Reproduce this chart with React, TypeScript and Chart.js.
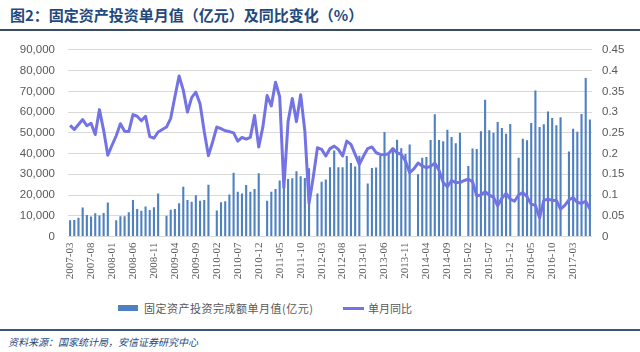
import React, { useEffect, useRef } from "react";
import { Chart, registerables } from "chart.js";

Chart.register(...registerables);

// Categories: 2007-03 .. 2017-07 (monthly)
const START_YEAR = 2007;
const START_MONTH = 3;
const MONTH_COUNT = 125;
const months: string[] = [];
for (let k = 0; k < MONTH_COUNT; k++) {
  const m0 = START_MONTH - 1 + k;
  const y = START_YEAR + Math.floor(m0 / 12);
  const m = (m0 % 12) + 1;
  months.push(`${y}-${m < 10 ? "0" + m : m}`);
}

// 固定资产投资单月值（亿元）; January not reported (null)
const investment: (number | null)[] = [
  // 2007-03 .. 2007-12
  7800, 7900, 9000, 14000, 10400, 9700, 11200, 10100, 11300, 16400,
  // 2008
  null, 7800, 9800, 9800, 11700, 17600, 13300, 12400, 14500, 12800, 14100, 20700,
  // 2009
  null, 10000, 12900, 13300, 16000, 24000, 17600, 16800, 19900, 17200, 17600, 24900,
  // 2010
  null, 12500, 16500, 17000, 20300, 30700, 21600, 20700, 24800, 21600, 22900, 30500,
  // 2011
  null, 17300, 21600, 22900, 27000, 27700, 27700, 28100, 31500, 29000, 28200, 32900,
  // 2012
  null, 20700, 26400, 27500, 33400, 41500, 33400, 33400, 38800, 35500, 33800, 39000,
  // 2013
  null, 25600, 33000, 33300, 38800, 50400, 39600, 42600, 46700, 42600, 39800, 44400,
  // 2014
  null, 30000, 38000, 38400, 46500, 59000, 46500, 46000, 51500, 48000, 45000, 50000,
  // 2015
  null, 34000, 42500, 42200, 50800, 66000, 51200, 50000, 55200, 52300, 49600, 54300,
  // 2016
  null, 38000, 47200, 46400, 54700, 70400, 52800, 54200, 60300, 57100, 53600, 57500,
  // 2017
  null, 41000, 52000, 50500, 59100, 76500, 56400,
];

// 单月同比
const yoy: number[] = [
  // 2007-03 .. 2007-12
  0.268, 0.258, 0.27, 0.282, 0.267, 0.273, 0.246, 0.306, 0.256, 0.196,
  // 2008
  0.22, 0.243, 0.272, 0.254, 0.253, 0.294, 0.29, 0.279, 0.29, 0.241, 0.237, 0.252,
  // 2009
  0.258, 0.264, 0.285, 0.337, 0.387, 0.353, 0.3, 0.335, 0.348, 0.32, 0.253, 0.195,
  // 2010
  0.228, 0.264, 0.26, 0.255, 0.253, 0.25, 0.23, 0.239, 0.235, 0.239, 0.292, 0.216,
  // 2011
  0.265, 0.34, 0.315, 0.372, 0.337, 0.118, 0.277, 0.333, 0.277, 0.342, 0.254, 0.08,
  // 2012
  0.143, 0.214, 0.21, 0.194, 0.212, 0.218, 0.21, 0.194, 0.23, 0.222, 0.198, 0.174,
  // 2013
  0.194, 0.212, 0.216, 0.202, 0.198, 0.197, 0.2, 0.212, 0.202, 0.198, 0.182, 0.154,
  // 2014
  0.163, 0.177, 0.17, 0.166, 0.169, 0.177, 0.16, 0.13, 0.12, 0.135, 0.13, 0.13,
  // 2015
  0.135, 0.138, 0.132, 0.098, 0.1, 0.108, 0.1, 0.095, 0.074, 0.092, 0.104, 0.09,
  // 2016
  0.085, 0.1, 0.106, 0.096, 0.078, 0.075, 0.045, 0.087, 0.09, 0.087, 0.087, 0.066,
  // 2017
  0.075, 0.088, 0.094, 0.082, 0.08, 0.085, 0.066,
];

const leftTicks = [0, 10000, 20000, 30000, 40000, 50000, 60000, 70000, 80000, 90000];
const rightTicks = [0, 0.05, 0.1, 0.15, 0.2, 0.25, 0.3, 0.35, 0.4, 0.45];

const BAR_LABEL = "固定资产投资完成额单月值(亿元)";
const LINE_LABEL = "单月同比";
const TITLE = "图2：固定资产投资单月值（亿元）及同比变化（%）";
const SOURCE = "资料来源：国家统计局，安信证券研究中心";

const BAR_COLOR = "#4f80c0";
const LINE_COLOR = "#7373e6";
const TICK_COLOR = "#595959";
const GRID_COLOR = "#d9d9d9";

export default function App() {
  const ref = useRef<HTMLCanvasElement | null>(null);

  useEffect(() => {
    if (!ref.current) return;
    const chart = new Chart(ref.current, {
      data: {
        labels: months,
        datasets: [
          {
            type: "line",
            label: LINE_LABEL,
            data: yoy,
            yAxisID: "y1",
            borderColor: LINE_COLOR,
            backgroundColor: LINE_COLOR,
            borderWidth: 3,
            pointRadius: 0,
            tension: 0,
            order: 0,
            borderJoinStyle: "round",
          },
          {
            type: "bar",
            label: BAR_LABEL,
            data: investment,
            yAxisID: "y",
            backgroundColor: BAR_COLOR,
            barPercentage: 0.5,
            categoryPercentage: 1,
            order: 1,
          },
        ],
      } as any,
      options: {
        responsive: false,
        animation: false,
        layout: { padding: { top: 16, left: 0, right: 0, bottom: 0 } },
        plugins: { legend: { display: false }, tooltip: { enabled: false } },
        scales: {
          x: {
            grid: { display: false, drawTicks: false },
            border: { display: false },
            ticks: {
              autoSkip: false,
              minRotation: 90,
              maxRotation: 90,
              padding: 6,
              color: TICK_COLOR,
              font: { family: "'Liberation Serif', serif", size: 11 },
              callback: (_v: any, i: number) => (i % 5 === 0 ? months[i] : ""),
            },
            afterFit: (s: any) => {
              s.height = 53.5;
            },
          },
          y: {
            position: "left",
            min: 0,
            max: 90000,
            afterBuildTicks: (s: any) => {
              s.ticks = leftTicks.map((v) => ({ value: v }));
            },
            ticks: {
              padding: 13,
              color: TICK_COLOR,
              font: { family: "'Liberation Sans', sans-serif", size: 11.5 },
              callback: (v: any) => Number(v).toLocaleString("en-US"),
            },
            grid: { color: GRID_COLOR, drawTicks: false, lineWidth: 1 },
            border: { display: false },
            afterFit: (s: any) => {
              s.width = 68;
            },
          },
          y1: {
            position: "right",
            min: 0,
            max: 0.45,
            afterBuildTicks: (s: any) => {
              s.ticks = rightTicks.map((v) => ({ value: v }));
            },
            ticks: {
              padding: 10,
              color: TICK_COLOR,
              font: { family: "'Liberation Sans', sans-serif", size: 11.5 },
              callback: (v: any) => String(Number(Number(v).toFixed(2))),
            },
            grid: { display: false, drawTicks: false },
            border: { display: false },
            afterFit: (s: any) => {
              s.width = 48;
            },
          },
        },
      } as any,
    });
    return () => chart.destroy();
  }, []);

  const cjk = "'Noto Sans CJK SC', sans-serif";

  return (
    <div
      style={{
        position: "absolute",
        left: 0,
        top: 0,
        width: 640,
        height: 352,
        background: "#ffffff",
        overflow: "hidden",
      }}
    >
      <div
        style={{
          position: "absolute",
          left: 10,
          top: 5,
          fontFamily: cjk,
          fontWeight: 700,
          fontSize: 15,
          lineHeight: "20px",
          color: "#1f497d",
          whiteSpace: "nowrap",
        }}
      >
        {TITLE}
      </div>
      <div
        style={{
          position: "absolute",
          left: 0,
          top: 29,
          width: 640,
          height: 2,
          background: "#3a4d66",
        }}
      />
      <canvas
        ref={ref}
        width={640}
        height={260}
        style={{ position: "absolute", left: 0, top: 30, width: 640, height: 260 }}
      />
      <div
        style={{
          position: "absolute",
          left: 118,
          top: 305,
          width: 20,
          height: 6,
          background: BAR_COLOR,
        }}
      />
      <div
        style={{
          position: "absolute",
          left: 144,
          top: 300,
          fontFamily: cjk,
          fontSize: 11,
          lineHeight: "16px",
          color: TICK_COLOR,
          whiteSpace: "nowrap",
          letterSpacing: 0.5,
        }}
      >
        {BAR_LABEL}
      </div>
      <div
        style={{
          position: "absolute",
          left: 343,
          top: 307,
          width: 21,
          height: 3,
          background: LINE_COLOR,
        }}
      />
      <div
        style={{
          position: "absolute",
          left: 368,
          top: 300,
          fontFamily: cjk,
          fontSize: 11,
          lineHeight: "16px",
          color: TICK_COLOR,
          whiteSpace: "nowrap",
        }}
      >
        {LINE_LABEL}
      </div>
      <div
        style={{
          position: "absolute",
          left: 0,
          top: 329,
          width: 640,
          height: 2,
          background: "#3a5580",
        }}
      />
      <div
        style={{
          position: "absolute",
          left: 8,
          top: 335,
          fontFamily: cjk,
          fontStyle: "italic",
          fontSize: 10,
          lineHeight: "14px",
          color: "#1f497d",
          whiteSpace: "nowrap",
        }}
      >
        {SOURCE}
      </div>
    </div>
  );
}
